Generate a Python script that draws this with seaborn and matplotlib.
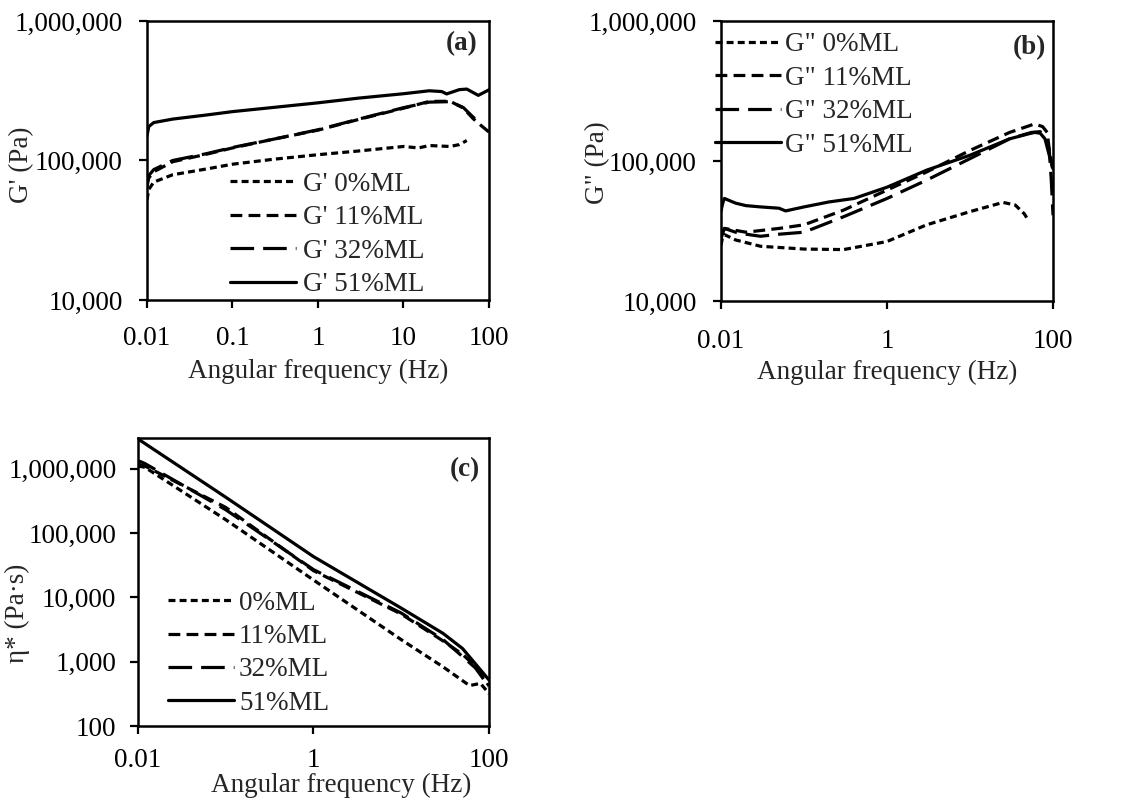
import numpy as np
import pandas as pd
import matplotlib
matplotlib.use("Agg")
import matplotlib.pyplot as plt
from matplotlib.ticker import FixedLocator, FixedFormatter, NullLocator
import seaborn as sns

# ---------------- data ----------------
series_pct = ["0%ML", "11%ML", "32%ML", "51%ML"]

# Panel (a): storage modulus G' (Pa)
a_f_0 = [0.01, 0.0105, 0.012, 0.02, 0.05, 0.1, 0.3, 1, 3, 10, 15, 20, 35, 45, 55]
a_g_0 = [52e3, 62e3, 70e3, 79e3, 87e3, 94e3, 102e3, 110e3, 117e3, 126e3, 123e3, 128e3, 126e3, 130e3, 139e3]
a_f_11 = [0.01, 0.0105, 0.012, 0.02, 0.05, 0.1, 0.3, 1, 3, 10, 20, 35, 50, 65, 75, 100]
a_g_11 = [65e3, 75e3, 83e3, 98e3, 111e3, 123e3, 142e3, 165e3, 197e3, 237e3, 265e3, 266e3, 238e3, 200e3, 185e3, 160e3]
a_f_32 = [0.01, 0.0105, 0.012, 0.02, 0.05, 0.1, 0.3, 1, 3, 10, 20, 35, 50, 65, 75]
a_g_32 = [70e3, 78e3, 86e3, 100e3, 112e3, 124e3, 142e3, 166e3, 198e3, 239e3, 262e3, 264e3, 240e3, 205e3, 190e3]
a_f_51 = [0.01, 0.0105, 0.012, 0.02, 0.05, 0.1, 0.3, 1, 3, 10, 20, 28, 32, 45, 55, 75, 100]
a_g_51 = [150e3, 175e3, 187e3, 198e3, 212e3, 224e3, 240e3, 259e3, 280e3, 301e3, 316e3, 312e3, 300e3, 322e3, 325e3, 293e3, 321e3]

# Panel (b): loss modulus G'' (Pa)
b_f_0 = [0.01, 0.0105, 0.011, 0.015, 0.03, 0.1, 0.3, 1, 3, 10, 25, 35, 45, 50]
b_g_0 = [25e3, 29e3, 29.8e3, 27.3e3, 24.6e3, 23.5e3, 23.3e3, 26.6e3, 35e3, 43.5e3, 50.6e3, 48.5e3, 42e3, 38e3]
b_f_11 = [0.01, 0.011, 0.02, 0.05, 0.1, 0.3, 1, 3, 10, 30, 60, 75, 85, 90, 100]
b_g_11 = [30e3, 33e3, 31e3, 33e3, 35e3, 44.6e3, 62e3, 83.5e3, 119e3, 160e3, 184e3, 176e3, 160e3, 122e3, 84e3]
b_f_32 = [0.01, 0.011, 0.015, 0.02, 0.03, 0.05, 0.1, 0.3, 1, 3, 10, 30, 55, 70, 80, 90, 95, 100]
b_g_32 = [28e3, 33e3, 31e3, 30e3, 29e3, 30e3, 31e3, 40e3, 54e3, 73e3, 104e3, 144e3, 160e3, 162e3, 150e3, 120e3, 75e3, 41e3]
b_f_51 = [0.01, 0.0105, 0.011, 0.015, 0.02, 0.03, 0.05, 0.06, 0.1, 0.2, 0.4, 1, 3, 10, 30, 50, 60, 70, 80, 90, 100]
b_g_51 = [44e3, 50e3, 54e3, 50e3, 48e3, 47e3, 46e3, 44e3, 47e3, 51e3, 54e3, 65e3, 86e3, 110e3, 144e3, 156e3, 160e3, 158e3, 144e3, 110e3, 88e3]

# Panel (c): complex viscosity eta* (Pa.s)
c_f_0 = [0.01, 0.012, 0.1, 1, 10, 30, 60, 80, 100]
c_e_0 = [1.1e6, 1.05e6, 161e3, 18.6e3, 2.2e3, 830, 425, 460, 320]
c_f_11 = [0.01, 0.012, 0.1, 1, 10, 30, 50, 70, 100]
c_e_11 = [1.15e6, 1.1e6, 250e3, 26e3, 5.5e3, 2.1e3, 1.3e3, 850, 420]
c_f_32 = [0.01, 0.0105, 0.012, 0.1, 1, 10, 30, 50, 70, 100]
c_e_32 = [1.05e6, 1.3e6, 1.2e6, 230e3, 27e3, 5.7e3, 2.2e3, 1.2e3, 800, 410]
c_f_51 = [0.01, 0.1, 1, 10, 30, 50, 100]
c_e_51 = [2.9e6, 360e3, 43e3, 6.8e3, 2.75e3, 1.6e3, 520]

x_ticks_a = [0.01, 0.1, 1, 10, 100]
x_tick_labels_a = ["0.01", "0.1", "1", "10", "100"]
x_ticks_bc = [0.01, 1, 100]
x_tick_labels_bc = ["0.01", "1", "100"]
y_ticks_ab = [1e4, 1e5, 1e6]
y_tick_labels_ab = ["10,000", "100,000", "1,000,000"]
y_ticks_c = [1e2, 1e3, 1e4, 1e5, 1e6]
y_tick_labels_c = ["100", "1,000", "10,000", "100,000", "1,000,000"]

# ---------------- style ----------------
sns.set_style("ticks")
plt.rcParams["font.family"] = ["Liberation Serif", "DejaVu Serif"]
plt.rcParams["lines.scale_dashes"] = False
FS = 19.5

styles = [(0, (5, 3)), (0, (8.5, 4.5)), (0, (17, 6.5)), "-"]

fig = plt.figure(figsize=(11.34, 8.01), dpi=100)
ax_a = fig.add_axes([0.1296, 0.6255, 0.3016, 0.3483])
ax_b = fig.add_axes([0.6358, 0.6242, 0.2928, 0.3496])
ax_c = fig.add_axes([0.1217, 0.0936, 0.3095, 0.3596])


def draw(ax, xs, ys, labels):
    for x, y, ls, lab in zip(xs, ys, styles, labels):
        sns.lineplot(x=x, y=y, ax=ax, color="black", linewidth=2.3,
                     linestyle=ls, label=lab, estimator=None, sort=False)
    ax.set_xscale("log")
    ax.set_yscale("log")


def finish(ax, xt, xtl, yt, ytl, xlim, ylim, ylabel, xpad, ypad):
    ax.set_xlim(*xlim)
    ax.set_ylim(*ylim)
    ax.xaxis.set_major_locator(FixedLocator(xt))
    ax.xaxis.set_major_formatter(FixedFormatter(xtl))
    ax.yaxis.set_major_locator(FixedLocator(yt))
    ax.yaxis.set_major_formatter(FixedFormatter(ytl))
    ax.xaxis.set_minor_locator(NullLocator())
    ax.yaxis.set_minor_locator(NullLocator())
    ax.tick_params(axis="x", direction="out", length=5.5, width=1.6,
                   labelsize=FS, pad=xpad, colors="black")
    ax.tick_params(axis="y", direction="out", length=5.5, width=1.6,
                   labelsize=FS, pad=ypad, colors="black")
    for s in ax.spines.values():
        s.set_visible(True)
        s.set_linewidth(1.8)
        s.set_color("black")
    ax.set_xlabel("Angular frequency (Hz)", fontsize=FS)
    ax.set_ylabel(ylabel, fontsize=FS)


leg_kw = dict(loc="upper left", frameon=False, fontsize=FS, handlelength=2.45,
              handletextpad=0.25, labelspacing=0.31, borderpad=0, borderaxespad=0)

# (a)
draw(ax_a, [a_f_0, a_f_11, a_f_32, a_f_51], [a_g_0, a_g_11, a_g_32, a_g_51],
     ["G' " + s for s in series_pct])
finish(ax_a, x_ticks_a, x_tick_labels_a, y_ticks_ab, y_tick_labels_ab,
       (0.01, 100), (1e4, 1e6), "G' (Pa)", 13, 12)
ax_a.legend(bbox_to_anchor=(0.243, 0.459), **leg_kw)
ax_a.text(0.965, 0.92, "(a)", transform=ax_a.transAxes, ha="right", va="center",
          fontsize=FS, fontweight="bold")
ax_a.xaxis.set_label_coords(0.5, -0.21)
ax_a.yaxis.set_label_coords(-0.33, 0.484)

# (b)
draw(ax_b, [b_f_0, b_f_11, b_f_32, b_f_51], [b_g_0, b_g_11, b_g_32, b_g_51],
     ['G" ' + s for s in series_pct])
finish(ax_b, x_ticks_bc, x_tick_labels_bc, y_ticks_ab, y_tick_labels_ab,
       (0.01, 100), (1e4, 1e6), 'G" (Pa)', 15, 12)
ax_b.legend(bbox_to_anchor=(-0.018, 0.959), **{**leg_kw, "handletextpad": 0.15})
ax_b.text(0.979, 0.904, "(b)", transform=ax_b.transAxes, ha="right", va="center",
          fontsize=FS, fontweight="bold")
ax_b.xaxis.set_label_coords(0.5, -0.21)
ax_b.yaxis.set_label_coords(-0.334, 0.493)

# (c)
draw(ax_c, [c_f_0, c_f_11, c_f_32, c_f_51], [c_e_0, c_e_11, c_e_32, c_e_51],
     series_pct)
finish(ax_c, x_ticks_bc, x_tick_labels_bc, y_ticks_c, y_tick_labels_c,
       (0.01, 100), (100, 3e6), "\u03b7* (Pa\u00b7s)", 10, 10)
ax_c.legend(bbox_to_anchor=(0.085, 0.47), **{**leg_kw, "handletextpad": 0.18})
ax_c.text(0.974, 0.889, "(c)", transform=ax_c.transAxes, ha="right", va="center",
          fontsize=FS, fontweight="bold")
ax_c.xaxis.set_label_coords(0.58, -0.163)
ax_c.yaxis.set_label_coords(-0.308, 0.392)

fig.savefig("out.png", dpi=100, facecolor="white")
